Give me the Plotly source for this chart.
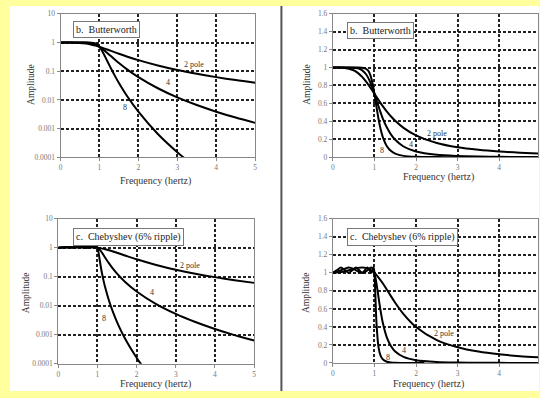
import math
import plotly.graph_objects as go

# ---------------- data ----------------
bw_freq = [0, 0.25, 0.5, 0.6, 0.7, 0.8, 0.9, 1.0, 1.1, 1.2, 1.3, 1.4, 1.5, 1.7,
           2.0, 2.5, 3.0, 3.5, 4.0, 4.5, 5.0]
bw_2pole = [1.0, 0.998, 0.970, 0.941, 0.898, 0.842, 0.777, 0.707, 0.637, 0.570,
            0.509, 0.454, 0.406, 0.327, 0.243, 0.158, 0.110, 0.0814, 0.0624,
            0.0493, 0.040]
bw_4pole = [1.0, 1.0, 0.998, 0.992, 0.972, 0.925, 0.836, 0.707, 0.564, 0.434,
            0.330, 0.252, 0.194, 0.119, 0.0624, 0.0256, 0.0123, 0.00666,
            0.00391, 0.00244, 0.0016]
bw8_freq = [0, 0.5, 0.6, 0.7, 0.8, 0.85, 0.9, 0.95, 1.0, 1.05, 1.1, 1.15, 1.2,
            1.3, 1.4, 1.5, 1.7, 2.0, 2.5, 3.0, 3.2]
bw_8pole = [1.0, 1.0, 1.0, 0.998, 0.986, 0.965, 0.918, 0.833, 0.707, 0.560,
            0.423, 0.311, 0.227, 0.122, 0.0676, 0.0390, 0.0143, 0.00391,
            0.000655, 0.000152, 0.0000909]

ch2_freq = [0, 0.25, 0.5, 0.6, 0.707, 0.8, 0.9, 1.0, 1.1, 1.2, 1.3, 1.4, 1.5,
            1.7, 2.0, 2.5, 3.0, 3.5, 4.0, 4.5, 5.0]
ch_2pole = [1.0, 1.013, 1.044, 1.055, 1.06, 1.055, 1.036, 1.0, 0.948, 0.884,
            0.813, 0.739, 0.668, 0.542, 0.399, 0.254, 0.175, 0.127, 0.0967,
            0.0760, 0.0613]
ch4_freq = [0, 0.2, 0.383, 0.5, 0.6, 0.707, 0.8, 0.924, 0.96, 1.0, 1.05, 1.1,
            1.15, 1.2, 1.3, 1.4, 1.5, 1.7, 2.0, 2.5, 3.0, 3.5, 4.0, 4.5, 5.0]
ch_4pole = [1.0, 1.030, 1.06, 1.044, 1.016, 1.0, 1.016, 1.06, 1.048, 1.0,
            0.880, 0.725, 0.574, 0.449, 0.281, 0.185, 0.127, 0.0672, 0.0310,
            0.0114, 0.00522, 0.00273, 0.00157, 0.000965, 0.000627]
ch8_freq = [0, 0.1, 0.195, 0.29, 0.383, 0.47, 0.556, 0.63, 0.707, 0.77, 0.831,
            0.88, 0.924, 0.955, 0.981, 1.0, 1.02, 1.05, 1.1, 1.15, 1.2, 1.3,
            1.4, 1.5, 1.7, 2.0, 2.1, 2.2]
ch_8pole = [1.0, 1.03, 1.06, 1.03, 1.0, 1.03, 1.06, 1.03, 1.0, 1.03, 1.06,
            1.03, 1.0, 1.03, 1.06, 1.0, 0.786, 0.439, 0.171, 0.0792, 0.0414,
            0.0142, 0.00585, 0.00273, 0.000754, 0.00016, 0.000102, 0.0000672]

log_tickvals = [0.0001, 0.001, 0.01, 0.1, 1, 10]
log_ticktext = ["0.0001", "0.001", "0.01", "0.1", "1", "10"]
lin_tickvals = [0, 0.2, 0.4, 0.6, 0.8, 1.0, 1.2, 1.4, 1.6]
lin_ticktext = ["0", "0.2", "0.4", "0.6", "0.8", "1", "1.2", "1.4", "1.6"]
freq_tickvals = [0, 1, 2, 3, 4, 5]
freq_ticktext = ["0", "1", "2", "3", "4", "5"]

titles = ["b.  Butterworth", "b.  Butterworth",
          "c.  Chebyshev (6% ripple)", "c.  Chebyshev (6% ripple)"]

# ---------------- layout helpers ----------------
W, H = 540, 398
def px(x):
    return x / W
def py(y):
    return 1 - y / H

SERIF = "Liberation Serif, Times New Roman, serif"
fig = go.Figure()

panels = [
    # (axis suffix, domain x px, domain y px, log?, xrange)
    ("", (59, 255), (10, 157), True, [0, 5]),
    ("2", (333.3, 540), (10, 156.7), False, [0, (540 - 333.3) / 41.9]),
    ("3", (56.7, 254), (219.7, 368), True, [0, 5]),
    ("4", (333.3, 540), (219.7, 367.3), False, [0, (540 - 333.3) / 41.9]),
]

series = [
    [(bw_freq, bw_2pole), (bw_freq, bw_4pole), (bw8_freq, bw_8pole)],
    [(bw_freq, bw_2pole), (bw_freq, bw_4pole), (bw8_freq, bw_8pole)],
    [(ch2_freq, ch_2pole), (ch4_freq, ch_4pole), (ch8_freq, ch_8pole)],
    [(ch2_freq, ch_2pole), (ch4_freq, ch_4pole), (ch8_freq, ch_8pole)],
]

grid_style = dict(showgrid=True, gridcolor="#222", gridwidth=1.6,
                  griddash="3px,2px", zeroline=False, showline=True,
                  mirror=True, linecolor="#888", linewidth=1,
                  ticks="outside", ticklen=3, tickcolor="#888",
                  tickfont=dict(family=SERIF, size=7.5, color="#777"))

for i, (sfx, (x0, x1), (y0, y1), is_log, xr) in enumerate(panels):
    xa = "xaxis" + sfx
    ya = "yaxis" + sfx
    xref = "x" + sfx
    yref = "y" + sfx
    fig.layout[xa] = dict(domain=[px(x0), px(x1)], range=xr, anchor=yref,
                          tickvals=freq_tickvals, ticktext=freq_ticktext,
                          **grid_style)
    if is_log:
        fig.layout[ya] = dict(domain=[py(y1), py(y0)], type="log",
                              range=[-4, 1], anchor=xref,
                              tickvals=log_tickvals, ticktext=log_ticktext,
                              **grid_style)
    else:
        fig.layout[ya] = dict(domain=[py(y1), py(y0)], range=[0, 1.6],
                              anchor=xref, tickvals=lin_tickvals,
                              ticktext=lin_ticktext, **grid_style)
    for fx, fy in series[i]:
        fig.add_trace(go.Scatter(x=fx, y=fy, mode="lines", xaxis=xref,
                                 yaxis=yref, showlegend=False,
                                 line=dict(color="black", width=2,
                                           shape="spline", smoothing=0.8),
                                 hoverinfo="skip"))

# background card and separator
fig.add_shape(type="rect", xref="paper", yref="paper", x0=px(8), x1=px(541),
              y0=py(396), y1=py(2), fillcolor="white", line=dict(width=0),
              layer="below")
fig.add_shape(type="line", xref="paper", yref="paper", x0=px(281.5),
              x1=px(281.5), y0=py(396), y1=py(2),
              line=dict(color="#555", width=2))

ann = []
# title boxes
boxes = [(72, 17), (348, 18), (72, 229), (348, 229)]
for (bx, by), t in zip(boxes, titles):
    ann.append(dict(x=px(bx), y=py(by), xref="paper", yref="paper",
                    xanchor="left", yanchor="top", text=t, showarrow=False,
                    font=dict(family=SERIF, size=10, color="#222"),
                    bgcolor="white", bordercolor="#777", borderwidth=1,
                    borderpad=2))
# axis titles
amp_pos = [(29, 82), (307, 82), (25, 295), (307, 295)]
for ax_, ay_ in amp_pos:
    ann.append(dict(x=px(ax_), y=py(ay_), xref="paper", yref="paper",
                    xanchor="center", yanchor="middle",
                    text="Amplitude", textangle=-90, showarrow=False,
                    font=dict(family=SERIF, size=9.5, color="#333")))
freq_pos = [(155, 181), (440, 177), (155, 389), (430, 389)]
for fx_, fy_ in freq_pos:
    ann.append(dict(x=px(fx_), y=py(fy_), xref="paper", yref="paper",
                    xanchor="center", yanchor="middle",
                    text="Frequency (hertz)", showarrow=False,
                    font=dict(family=SERIF, size=10, color="#333")))
# curve labels (data coords)
labels = [
    ("", True, [(3.42, 0.17, "2 pole"), (2.75, 0.041, "4"), (1.66, 0.0053, "8")]),
    ("2", False, [(2.5, 0.26, "2 pole"), (1.89, 0.14, "4"), (1.19, 0.073, "8")]),
    ("3", True, [(3.36, 0.235, "2 pole"), (2.38, 0.028, "4"), (1.16, 0.0035, "8")]),
    ("4", False, [(2.68, 0.325, "2 pole"), (1.72, 0.137, "4"), (1.32, 0.065, "8")]),
]
for sfx, is_log, items in labels:
    for lx, ly, t in items:
        ann.append(dict(x=lx, y=math.log10(ly) if is_log else ly,
                        xref="x" + sfx, yref="y" + sfx, text=t,
                        xanchor="center", yanchor="middle",
                        showarrow=False,
                        font=dict(family=SERIF, size=8, color="#333")))

fig.update_layout(width=W, height=H, margin=dict(l=0, r=0, t=0, b=0),
                  paper_bgcolor="#FFFF9E", plot_bgcolor="white",
                  annotations=ann)

fig.write_html("out.html")
